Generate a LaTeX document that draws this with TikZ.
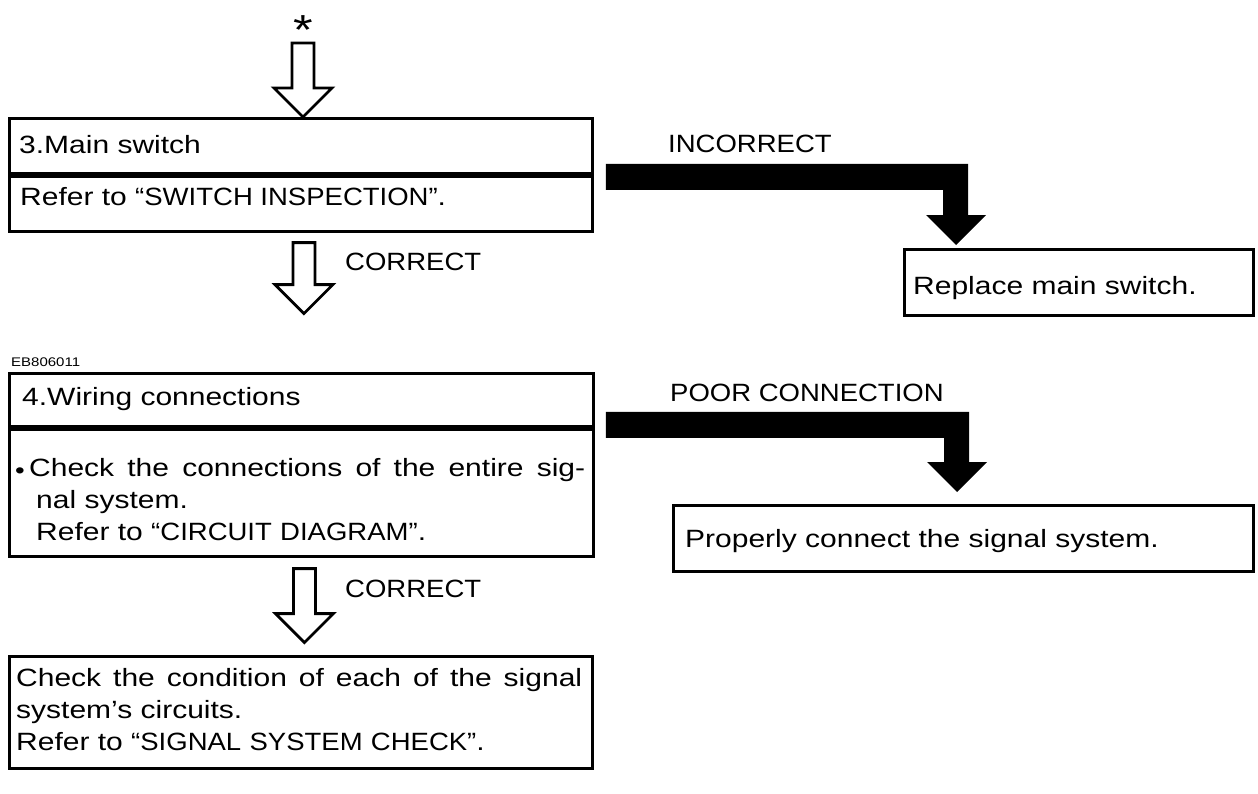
\documentclass[tikz,border=0pt]{standalone}
\usepackage{fontspec}
\setmainfont{Liberation Sans}[FakeStretch=1.2]
\newfontfamily\capsf{Liberation Sans}[FakeStretch=1.1]
\usetikzlibrary{calc}
\tikzset{
  box/.style={draw, line width=2.8pt, inner sep=0pt, anchor=north west},
  txt/.style={inner sep=0pt, anchor=base west, font=\fontsize{25}{32}\selectfont},
  captxt/.style={txt, font=\fontsize{25}{32}\selectfont\capsf},
  hollow/.style={draw, line width=2.8pt, fill=white, line join=miter},
  smalltxt/.style={inner sep=0pt, anchor=base west, font=\fontsize{12.5}{14}\selectfont},
}
% hollow downward arrow: #1 = top of shaft, #2 = tip
\newcommand\hollowdown[2]{%
  \path[hollow] let \p1=(#1), \p2=(#2) in
    (\x1-11pt,\y1) -- (\x1-11pt,\y2+29pt) -- (\x1-29pt,\y2+29pt) -- (\x2,\y2)
    -- (\x1+29pt,\y2+29pt) -- (\x1+11pt,\y2+29pt) -- (\x1+11pt,\y1) -- cycle;}
% solid L-shaped arrow: #1 = left end of bar (centre line), #2 = tip
\newcommand\blackarrow[2]{%
  \fill let \p1=(#1), \p2=(#2) in
    (\x1,\y1+13pt) -- (\x2+12pt,\y1+13pt) -- (\x2+12pt,\y2+30pt) -- (\x2+30pt,\y2+30pt)
    -- (\x2,\y2) -- (\x2-30pt,\y2+30pt) -- (\x2-13pt,\y2+30pt) -- (\x2-13pt,\y1-13pt)
    -- (\x1,\y1-13pt) -- cycle;}
\newcommand\smallbullet{\raisebox{-2pt}{\fontsize{23}{23}\selectfont •}}
\newcommand\justline[2]{{\spaceskip=\fontdimen2\font plus 1fil\relax\makebox[#1][s]{#2}}}
\begin{document}
\begin{tikzpicture}[x=1pt,y=-1pt]
\path[fill=white,use as bounding box] (0,0) rectangle (1258,793);

% asterisk and first arrow
\node[inner sep=0pt, font=\fontsize{42}{42}\selectfont, anchor=south] (star) at (303,32)
  {\raisebox{-0.30em}[0.41em][0pt]{*}};

% box 3
\node[box, minimum width=583pt, minimum height=55pt] (b1h) at (8,117) {};
\node[box, minimum width=583pt, minimum height=55pt] (b1b) at (b1h.south west) {};
\node[txt] (t1h) at ($(b1h.north west)+(11,36)$) {3.Main switch};
\node[txt] (t1b) at ($(b1b.north west)+(12,31)$) {Refer to {\capsf “SWITCH INSPECTION”}.};

\coordinate (a0s) at ($(star.south)+(0,11)$);
\coordinate (a0t) at (star.south |- b1h.north);
\hollowdown{a0s}{a0t}

% incorrect branch
\node[captxt] (l1) at (668,152) {INCORRECT};
\node[box, minimum width=349pt, minimum height=66pt] (b2) at (903,248) {};
\node[txt] (t2) at ($(b2.north west)+(10,46)$) {Replace main switch.};
\coordinate (i1s) at ($(b1h.south east)+(12,2)$);
\coordinate (i1t) at ($(b2.north west)+(53,-3)$);
\blackarrow{i1s}{i1t}

% correct 1
\coordinate (c1s) at ($(b1b.south)+(3,10)$);
\coordinate (c1t) at ($(b1b.south)+(3,81)$);
\hollowdown{c1s}{c1t}
\node[captxt] (c1l) at (345,270) {CORRECT};

% box 4
\node[smalltxt] (code) at (11,366) {EB806011};
\node[box, minimum width=584pt, minimum height=53pt] (b3h) at (8,372) {};
\node[box, minimum width=584pt, minimum height=127pt] (b3b) at (b3h.south west) {};
\node[txt] (t3h) at ($(b3h.north west)+(14,33)$) {4.Wiring connections};
\node[txt, text width=575pt, align=left] (t3b) at ($(b3b.north west)+(7,49)$)
  {\makebox[14pt][l]{\smallbullet}\justline{556pt}{Check the connections of the entire sig-}\\
   \hspace*{21pt}nal system.\\
   \hspace*{21pt}Refer to {\capsf “CIRCUIT DIAGRAM”}.};

% poor connection branch
\node[captxt] (l2) at (670,401) {POOR CONNECTION};
\node[box, minimum width=580pt, minimum height=66pt] (b4) at (672,504) {};
\node[txt] (t4) at ($(b4.north west)+(13,43)$) {Properly connect the signal system.};
\coordinate (i2s) at ($(b3h.south east)+(11,-3)$);
\coordinate (i2t) at ($(b4.north west)+(285,-12)$);
\blackarrow{i2s}{i2t}

% correct 2
\coordinate (c2s) at ($(b3b.south)+(3,11)$);
\coordinate (c2t) at ($(b3b.south)+(3,85)$);
\hollowdown{c2s}{c2t}
\node[captxt] (c2l) at (345,597) {CORRECT};

% final box
\node[box, minimum width=583pt, minimum height=112pt] (b5) at (8,655) {};
\node[txt, text width=575pt, align=left] (t5) at ($(b5.north west)+(8,31)$)
  {\justline{566pt}{Check the condition of each of the signal}\\
   system’s circuits.\\
   Refer to {\capsf “SIGNAL SYSTEM CHECK”}.};
\end{tikzpicture}
\end{document}
